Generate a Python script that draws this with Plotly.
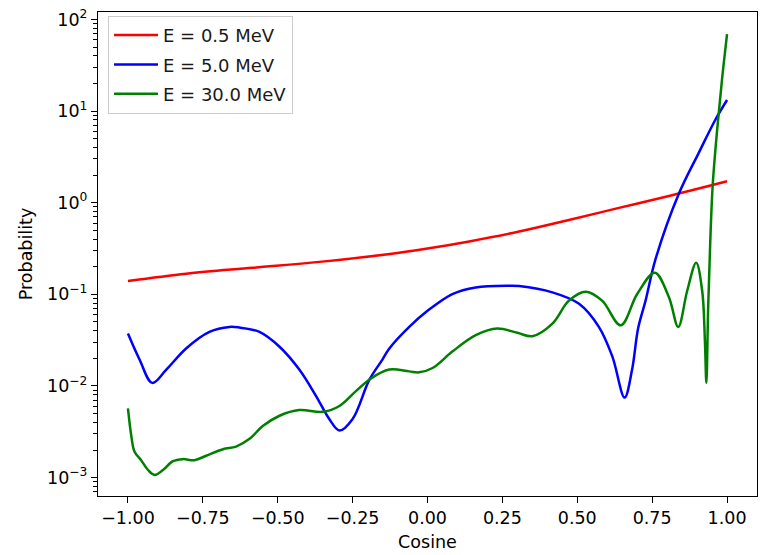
import plotly.graph_objects as go

# ---- data ----
red_x = [-1.0, -0.805, -0.583, -0.361, -0.139, 0.0, 0.139, 0.306, 0.472, 0.639, 0.806, 1.0]
red_y = [0.140, 0.168, 0.195, 0.226, 0.272, 0.316, 0.378, 0.484, 0.647, 0.877, 1.183, 1.714]

blue_x = [-1.0, -0.961, -0.919, -0.872, -0.805, -0.728, -0.661, -0.628, -0.561, -0.494,
          -0.428, -0.372, -0.328, -0.294, -0.25, -0.194, -0.15, -0.128, -0.061, 0.0, 0.083,
          0.161, 0.272, 0.306, 0.417, 0.506, 0.572, 0.617, 0.658, 0.683, 0.703,
          0.728, 0.761, 0.839, 0.906, 0.961, 1.0]
blue_y = [0.0373, 0.0193, 0.0108, 0.01507, 0.0258, 0.0389, 0.0441, 0.0434, 0.0389, 0.0268,
          0.0151, 0.00776, 0.00436, 0.00326, 0.00436, 0.0117, 0.0195, 0.0255, 0.0441, 0.066, 0.1007,
          0.119, 0.124, 0.123, 0.105, 0.0787, 0.0441, 0.021, 0.00746, 0.0151, 0.0423,
          0.0853, 0.240, 1.25, 3.52, 8.04, 13.2]

green_x = [-1.0, -0.989, -0.978, -0.956, -0.933, -0.911, -0.883, -0.85, -0.817,
           -0.778, -0.739, -0.683, -0.639, -0.594, -0.55, -0.494, -0.428, -0.35,
           -0.294, -0.239, -0.19, -0.128, -0.061, -0.028, 0.017, 0.083, 0.161,
           0.233, 0.3, 0.35, 0.417, 0.472, 0.528, 0.583, 0.645, 0.7, 0.759,
           0.806, 0.837, 0.867, 0.897, 0.917, 0.926, 0.931, 0.937, 0.944, 0.952,
           0.967, 0.983, 1.0]
green_y = [0.00568, 0.00288, 0.00191, 0.00155, 0.00121, 0.00107, 0.00121, 0.00151, 0.00159,
           0.00155, 0.00173, 0.00204, 0.00218, 0.00265, 0.00365, 0.00473, 0.00545, 0.00522,
           0.00605, 0.00879, 0.0120, 0.0151, 0.01442, 0.01409, 0.0157, 0.0237, 0.0358,
           0.0423, 0.0380, 0.0349, 0.0479, 0.0853, 0.107, 0.0853, 0.0459, 0.1007, 0.172,
           0.0927, 0.0441, 0.1094, 0.221, 0.1094, 0.0316, 0.0108, 0.0723, 0.378, 1.54,
           6.27, 21.7, 69.0]

labels = ["E = 0.5 MeV", "E = 5.0 MeV", "E = 30.0 MeV"]
colors = ["red", "blue", "green"]

x_ticks = [-1.0, -0.75, -0.5, -0.25, 0.0, 0.25, 0.5, 0.75, 1.0]
x_ticktext = ["\u22121.00", "\u22120.75", "\u22120.50", "\u22120.25", "0.00",
              "0.25", "0.50", "0.75", "1.00"]
y_ticks = [1e-3, 1e-2, 1e-1, 1e0, 1e1, 1e2]
y_ticktext = ["10<sup>\u22123</sup>", "10<sup>\u22122</sup>", "10<sup>\u22121</sup>",
              "10<sup>0</sup>", "10<sup>1</sup>", "10<sup>2</sup>"]

FONT = "DejaVu Sans"
FS = 17.5
LFS = 18

fig = go.Figure()
for xs, ys, lab, col in zip([red_x, blue_x, green_x], [red_y, blue_y, green_y], labels, colors):
    fig.add_trace(go.Scatter(x=xs, y=ys, mode="lines", name=lab, legendgroup=lab,
                             line=dict(color=col, width=2.5, shape="spline", smoothing=1.0)))

axis_common = dict(showline=True, linecolor="black", linewidth=1.2, mirror=True,
                   ticks="outside", ticklen=6, tickwidth=1.2, tickcolor="black",
                   showgrid=False, zeroline=False,
                   tickfont=dict(family=FONT, size=FS, color="black"))

fig.update_xaxes(range=[-1.1, 1.1], tickvals=x_ticks, ticktext=x_ticktext,
                 title=dict(text="Cosine", font=dict(family=FONT, size=FS, color="black"), standoff=8),
                 **axis_common)
fig.update_yaxes(type="log", range=[-3.201, 2.081], tickvals=y_ticks, ticktext=y_ticktext,
                 minor=dict(ticks="outside", ticklen=3.5, tickwidth=1, tickcolor="black",
                            tickvals=[m * 10.0 ** e for e in range(-4, 3) for m in range(2, 10)],
                            showgrid=False),
                 title=dict(text="Probability", font=dict(family=FONT, size=FS, color="black"), standoff=9),
                 **axis_common)

fig.update_layout(
    width=765, height=555,
    margin=dict(l=98, r=7, t=7, b=57),
    paper_bgcolor="white", plot_bgcolor="white",
    font=dict(family=FONT, size=FS, color="black"),
    legend=dict(x=0.0152, y=0.992, xanchor="left", yanchor="top",
                bgcolor="rgba(255,255,255,0.8)", bordercolor="#cccccc", borderwidth=1,
                font=dict(family=FONT, size=LFS, color="#1a1a1a"),
                tracegroupgap=3, traceorder="grouped", itemwidth=44),
    showlegend=True,
)

fig.write_html("out.html")
